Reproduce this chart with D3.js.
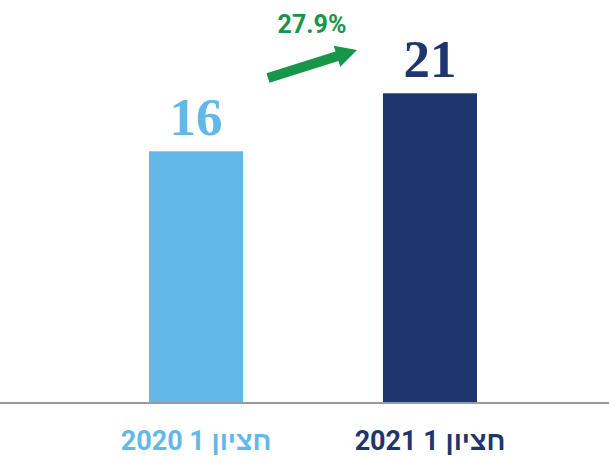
<!DOCTYPE html>
<html>
<head>
<meta charset="utf-8">
<script src="https://cdn.jsdelivr.net/npm/d3@7"></script>
<style>
  body { margin: 0; background: #fff; }
  .val { font-family: "Liberation Serif", serif; font-weight: bold; }
  .cat { font-family: Roboto, sans-serif; font-weight: bold; }
</style>
</head>
<body>
<div id="container"></div>
<script>
const categories = ["חציון 1 2020", "חציון 1 2021"];
const values = [16, 21];
const colors = ["#62b8e8", "#1e366d"];
const growthLabel = "27.9%";

const width = 609;
const height = 457;
const baseY = 403;

const svg = d3.select("#container")
              .append("svg")
              .attr("width", width)
              .attr("height", height);

const xScale = d3.scaleBand()
                 .domain(categories)
                 .range([149, 477])
                 .paddingInner(0.598)
                 .paddingOuter(0);

// bars in the source don't start from zero, so the domain floor is below 0
const yScale = d3.scaleLinear()
                 .domain([-5.7, 29.04])
                 .range([baseY, 0]);

svg.selectAll("rect")
   .data(values)
   .enter()
   .append("rect")
   .attr("x", (d, i) => xScale(categories[i]))
   .attr("y", (d) => yScale(d))
   .attr("width", xScale.bandwidth())
   .attr("height", (d) => baseY - yScale(d))
   .attr("fill", (d, i) => colors[i]);

svg.append("line")
   .attr("x1", 0)
   .attr("x2", width)
   .attr("y1", baseY)
   .attr("y2", baseY)
   .attr("stroke", "#9a9a9a")
   .attr("stroke-width", 2);

svg.selectAll(".val")
   .data(values)
   .enter()
   .append("text")
   .attr("class", "val")
   .attr("x", (d, i) => xScale(categories[i]) + xScale.bandwidth() / 2)
   .attr("y", (d) => yScale(d) - 16)
   .attr("text-anchor", "middle")
   .attr("font-size", 53)
   .attr("fill", (d, i) => colors[i])
   .text((d) => d);

svg.selectAll(".cat")
   .data(categories)
   .enter()
   .append("text")
   .attr("class", "cat")
   .attr("x", (d) => xScale(d) + xScale.bandwidth() / 2)
   .attr("y", 450)
   .attr("text-anchor", "middle")
   .attr("direction", "rtl")
   .attr("font-size", 27)
   .attr("fill", (d, i) => colors[i])
   .text((d) => d);

// growth arrow
const arrow = svg.append("g").attr("fill", "#17964a");
const x0 = 268, y0 = 78, x1 = 357, y1 = 50;
const ang = Math.atan2(y1 - y0, x1 - x0);
const len = Math.hypot(x1 - x0, y1 - y0);
arrow.append("path")
     .attr("transform", "translate(" + x0 + "," + y0 + ")rotate(" + (ang * 180 / Math.PI) + ")")
     .attr("d", "M0,-5L" + (len - 21) + ",-5L" + (len - 21) + ",-11L" + len + ",0L" + (len - 21) + ",11L" + (len - 21) + ",5L0,5Z");

svg.append("text")
   .attr("class", "cat")
   .attr("x", 312)
   .attr("y", 33)
   .attr("text-anchor", "middle")
   .attr("font-size", 25)
   .attr("fill", "#17964a")
   .text(growthLabel);
</script>
</body>
</html>
